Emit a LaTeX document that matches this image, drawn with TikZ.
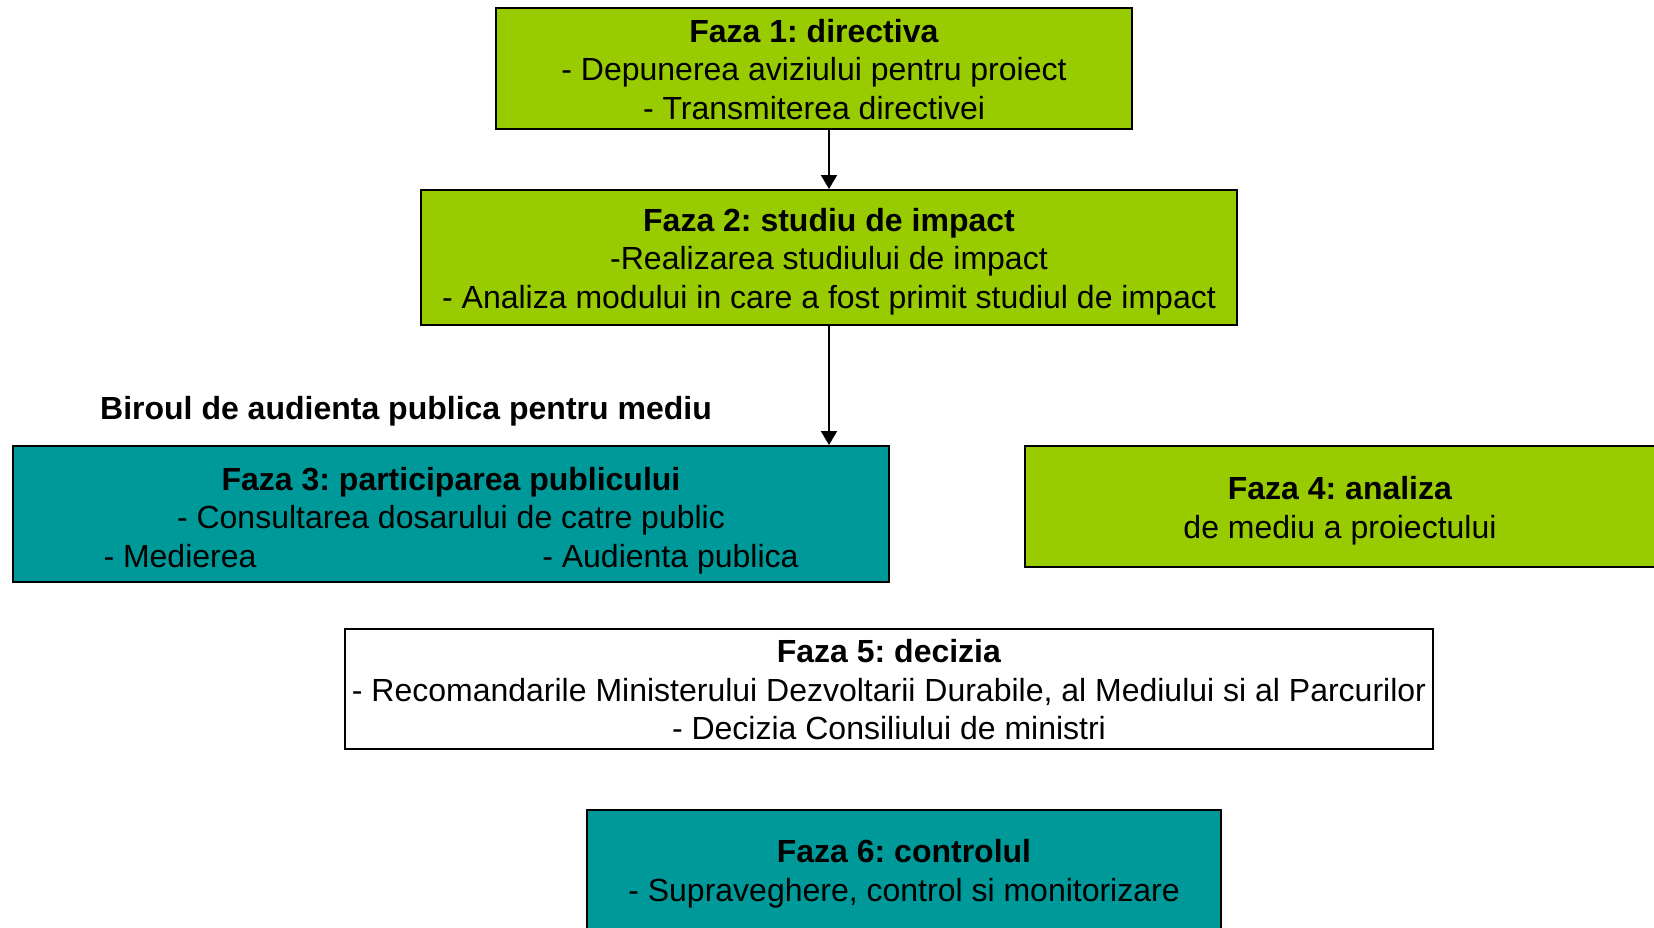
\documentclass[tikz,border=0pt]{standalone}
\usepackage{fontspec}
\setmainfont{Liberation Sans}
\usepackage{xcolor}
\usetikzlibrary{arrows.meta}
\frenchspacing

\definecolor{fazagreen}{HTML}{99CC00}
\definecolor{fazateal}{HTML}{009999}

% bold title line, with a strut to push the text down a bit
\newcommand{\fz}[2]{\rule{0pt}{#1}\textbf{#2}}

\tikzset{
  greenbox/.style={fill=fazagreen},
  tealbox/.style={fill=fazateal},
  whitebox/.style={fill=white},
  fazafont/.style={font=\fontsize{16}{19.25}\selectfont},
  titlefont/.style={font=\bfseries\fontsize{16}{19.25}\selectfont}
}

\begin{document}
\begin{tikzpicture}[x=0.5pt,y=-0.5pt]
\useasboundingbox (0,0) rectangle (1654,927);
\clip (0,0) rectangle (1654,927);

\begin{scope}[every node/.style={rectangle,draw=black,line width=1pt,inner sep=0pt,align=center,fazafont}]
    \node[greenbox, minimum width=318pt, minimum height=60.5pt] (F1) at (814,68.5)
        {\fz{12.5pt}{Faza 1: directiva}\\- Depunerea aviziului pentru proiect\\- Transmiterea directivei};
    \node[greenbox, minimum width=408pt, minimum height=67.5pt] (F2) at (829,257.5)
        {\fz{15.7pt}{Faza 2: studiu de impact}\\-Realizarea studiului de impact\\- Analiza modului in care a fost primit studiul de impact};
    \node[tealbox, minimum width=438pt, minimum height=68pt] (F3) at (451,514)
        {\fz{17.9pt}{Faza 3: participarea publicului}\\- Consultarea dosarului de catre public\\\makebox[347.5pt]{- Medierea\hfill- Audienta publica}};
    \node[greenbox, minimum width=315pt, minimum height=60.5pt] (F4) at (1340,506.5)
        {\fz{15.7pt}{Faza 4: analiza}\\de mediu a proiectului};
    \node[whitebox, minimum width=544pt, minimum height=60pt] (F5) at (889,689)
        {\fz{12.5pt}{Faza 5: decizia}\\- Recomandarile Ministerului Dezvoltarii Durabile, al Mediului si al Parcurilor\\- Decizia Consiliului de ministri};
    \node[tealbox, minimum width=317pt, minimum height=62pt] (F6) at (904,872)
        {\fz{13.5pt}{Faza 6: controlul}\\- Supraveghere, control si monitorizare};

    \end{scope}

\node[titlefont] (B) at (406,411) {Biroul de audienta publica pentru mediu};

\begin{scope}[>={Triangle[length=7pt,width=8pt]},
              every edge/.style={draw=black,line width=1pt}]
    \path [->] (F2.north |- F1.south) edge (F2.north);
    \path [->] (F2.south) edge (F2.south |- F3.north);

    \end{scope}

\end{tikzpicture}
\end{document}
